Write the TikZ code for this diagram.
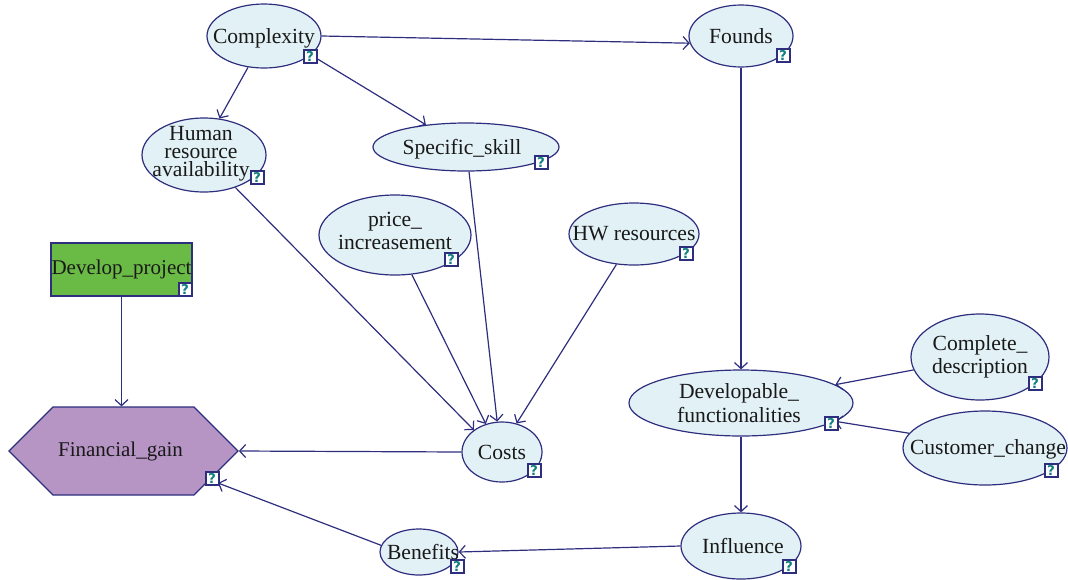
\documentclass[tikz,border=0pt]{standalone}
\usepackage{fontspec}
\setmainfont{Liberation Serif}
\newfontfamily\qfont{DejaVu Sans}
\usetikzlibrary{shapes.geometric,shapes.symbols,arrows.meta}
\definecolor{navy}{HTML}{2E2E7E}
\definecolor{paleblue}{HTML}{E2F1F5}
\definecolor{leaf}{HTML}{6ABB45}
\definecolor{mauve}{HTML}{B695C5}
\definecolor{tealq}{HTML}{0F7F80}
\tikzset{
  x=1pt,y=-1pt,
  lbl/.style={font=\fontsize{21.6}{18}\selectfont,align=center,text=black!90,inner sep=0pt},
  ell/.style n args={5}{ellipse,draw=navy,fill=paleblue,line width=1.2pt,inner sep=0pt,
    minimum width=2*#1 pt,minimum height=2*#2 pt,
    label={[lbl,xshift=#3 pt,yshift=#4 pt]center:#5}},
  qbox/.style={draw=navy,fill=white,line width=2pt,minimum size=13pt,inner sep=0pt,
    text=tealq,font=\fontsize{13.5}{13.5}\selectfont\bfseries\qfont},
  link/.style={draw=navy,line width=1.2pt,-{Straight Barb[length=6pt,width=13pt,line width=1.2pt]}}
}
\begin{document}
\begin{tikzpicture}
\useasboundingbox (0,0) rectangle (1068,579);
\node[ell={57}{32}{0}{-2}{Complexity}] (complexity) at (264,36) {};
\node[ell={52}{31}{0}{0}{Founds}] (founds) at (741,36) {};
\node[ell={62}{37}{-3}{1}{Human\\resource\\availability}] (human) at (204,155) {};
\node[ell={93}{24}{-4}{-2}{Specific\_skill}] (skill) at (466,147) {};
\node[ell={76}{40}{0}{4}{price\_\\[3pt]increasement}] (price) at (395,235) {};
\node[ell={65}{31}{0}{0}{HW resources}] (hw) at (634,234) {};
\node[ell={40}{30}{0}{0}{Costs}] (costs) at (502,452) {};
\node[ell={39}{23}{4}{0}{Benefits}] (benefits) at (419,552) {};
\node[ell={60}{33}{2}{0}{Influence}] (influence) at (741,546) {};
\node[ell={112}{33}{-2}{0}{Developable\_\\[3pt]functionalities}] (dev) at (741,403) {};
\node[ell={69}{43}{0}{0}{Complete\_\\[3pt]description}] (complete) at (980,357) {};
\node[ell={82}{37}{3}{-1}{Customer\_change}] (customer) at (985,448) {};
\node[draw=navy,fill=leaf,line width=1.2pt,minimum width=141pt,minimum height=53pt,inner sep=0pt,
  label={[lbl,font=\fontsize{21}{18}\selectfont]center:Develop\_project}] (project) at (121.5,269.5) {};
\node[signal,signal to=east and west,signal pointer angle=90,draw=navy,fill=mauve,line width=1.2pt,minimum width=229pt,minimum height=88pt,inner sep=0pt,
  label={[lbl,font=\fontsize{21}{18}\selectfont,xshift=-3pt]center:Financial\_gain}] (gain) at (123.5,451) {};
\coordinate (gainlow) at (218,483);

\draw[link] (complexity.0) -- (founds.188);
\draw[link] (complexity.243) -- (human.67);
\draw[link] (complexity.338) -- (skill.151);
\draw[link] (founds.270) -- (dev.90);
\draw[link] (human.314) -- (costs.142);
\draw[link] (skill.277) -- (costs.99);
\draw[link] (price.293) -- (costs.120);
\draw[link] (hw.240) -- (costs.63);
\draw[link] (project.south) -- (project.south |- gain.north);
\draw[link] (costs.180) -- (gain.east);
\draw[link] (benefits.170) -- (gainlow);
\draw[link] (dev.270) -- (influence.90);
\draw[link] (influence.180) -- (benefits.0);
\draw[link] (complete.191) -- (dev.11);
\draw[link] (customer.169) -- (dev.349);

\node[qbox] (q1) at (310,56) {?};
\node[qbox] (q2) at (783,55) {?};
\node[qbox] (q3) at (257,177) {?};
\node[qbox] (q4) at (541,162) {?};
\node[qbox] (q5) at (451,259) {?};
\node[qbox] (q6) at (686,253) {?};
\node[qbox] (q7) at (185,289) {?};
\node[qbox] (q8) at (212,478) {?};
\node[qbox] (q9) at (534,470) {?};
\node[qbox] (q10) at (457,566) {?};
\node[qbox] (q11) at (789,566) {?};
\node[qbox] (q12) at (831,423) {?};
\node[qbox] (q13) at (1035,383) {?};
\node[qbox] (q14) at (1051,470) {?};
\end{tikzpicture}
\end{document}
